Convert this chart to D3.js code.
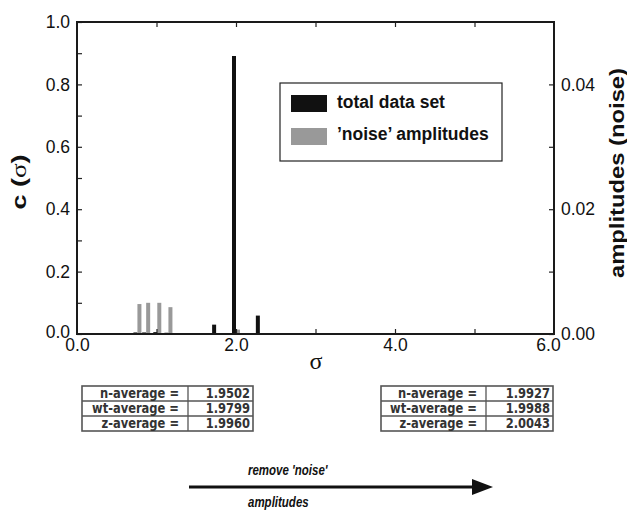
<!DOCTYPE html>
<html>
<head>
<meta charset="utf-8">
<script src="https://cdn.jsdelivr.net/npm/d3@7"></script>
<style>
  html, body { margin: 0; padding: 0; background: #fff; }
  svg { display: block; }
  text { font-family: "Liberation Sans", Arial, Helvetica, sans-serif; fill: #111; }
</style>
</head>
<body>
<svg id="chart" width="627" height="511"></svg>
<script>
// sigma positions of the distribution bins
const sigma = [0.76, 0.87, 1.01, 1.15, 1.31, 1.51, 1.75, 2.00, 2.30];
// c(sigma) of the total data set (left axis)
const totalData = [0.005, 0.005, 0.006, 0.004, 0.003, 0.003, 0.030, 0.891, 0.059];
// 'noise' amplitudes (right axis)
const noiseAmp = [0.0048, 0.0050, 0.0050, 0.0043, 0, 0, 0, 0.0007, 0];

// axis ticks
const xMajor = [0, 2, 4, 6];
const xMinor = [1, 2, 3, 4, 5];
const yLeftMajor = [0, 0.2, 0.4, 0.6, 0.8, 1.0];
const yLeftMinor = [0.1, 0.3, 0.5, 0.7, 0.9];
const yRightMajor = [0, 0.02, 0.04];
const yRightMinor = [0.01, 0.03];

// averages before and after removing the noise amplitudes
const avgLabels = ["n-average =", "wt-average =", "z-average ="];
const avgBefore = ["1.9502", "1.9799", "1.9960"];
const avgAfter = ["1.9927", "1.9988", "2.0043"];

const legendItems = ["total data set", "\u2019noise\u2019 amplitudes"];
const colors = ["#111111", "#999999"];

const svg = d3.select("#chart");
const L = 77, R = 554, T = 22, B = 334;

const x = d3.scaleLinear().domain([0, 6]).range([L, R]);
const yL = d3.scaleLinear().domain([0, 1]).range([B, T]);
const yR = d3.scaleLinear().domain([0, 0.05]).range([B, T]);

const barW = 4;

// bars: total data set (black, left of bin) and noise (gray, right of bin)
svg.append("g").selectAll("rect")
  .data(sigma.map((s, i) => ({ s, v: totalData[i] })))
  .join("rect")
  .attr("x", d => x(d.s) - barW)
  .attr("width", barW)
  .attr("y", d => yL(d.v))
  .attr("height", d => yL(0) - yL(d.v))
  .attr("fill", colors[0]);

svg.append("g").selectAll("rect")
  .data(sigma.map((s, i) => ({ s, v: noiseAmp[i] })).filter(d => d.v > 0))
  .join("rect")
  .attr("x", d => x(d.s))
  .attr("width", barW)
  .attr("y", d => yR(d.v))
  .attr("height", d => yR(0) - yR(d.v))
  .attr("fill", colors[1]);

// axes with inward ticks
function styleAxis(g) {
  g.select(".domain").remove();
  g.selectAll(".tick line").attr("stroke", "#222").attr("stroke-width", 1.2);
  g.selectAll(".tick text").attr("fill", "#111")
    .style("font-family", '"Liberation Sans", Arial, sans-serif')
    .style("font-size", "17.5px");
}

svg.append("g").attr("transform", `translate(0,${B})`)
  .call(d3.axisBottom(x).tickValues(xMajor).tickFormat(d3.format(".1f")).tickSize(0).tickPadding(5))
  .call(styleAxis)
  .call(g => g.selectAll(".tick text").filter(d => d === 6).attr("dx", -6));
svg.append("g").attr("transform", `translate(0,${B})`)
  .call(d3.axisBottom(x).tickValues(xMinor).tickFormat("").tickSize(-5))
  .call(styleAxis);
svg.append("g").attr("transform", `translate(0,${T})`)
  .call(d3.axisTop(x).tickValues(xMinor).tickFormat("").tickSize(-5))
  .call(styleAxis);

svg.append("g").attr("transform", `translate(${L},0)`)
  .call(d3.axisLeft(yL).tickValues(yLeftMajor).tickFormat(d3.format(".1f")).tickSize(-5).tickPadding(7))
  .call(styleAxis)
  .call(g => g.selectAll(".tick text").filter(d => d === 0).attr("y", -2));
svg.append("g").attr("transform", `translate(${L},0)`)
  .call(d3.axisLeft(yL).tickValues(yLeftMinor).tickFormat("").tickSize(-5))
  .call(styleAxis);

svg.append("g").attr("transform", `translate(${R},0)`)
  .call(d3.axisRight(yR).tickValues(yRightMajor).tickFormat(d3.format(".2f")).tickSize(-5).tickPadding(7))
  .call(styleAxis);
svg.append("g").attr("transform", `translate(${R},0)`)
  .call(d3.axisRight(yR).tickValues(yRightMinor).tickFormat("").tickSize(-5))
  .call(styleAxis);

// plot frame
svg.append("rect")
  .attr("x", L).attr("y", T).attr("width", R - L).attr("height", B - T)
  .attr("fill", "none").attr("stroke", "#1a1a1a").attr("stroke-width", 2);

// axis titles
svg.append("text")
  .attr("x", 316).attr("y", 369)
  .attr("text-anchor", "middle")
  .style("font-family", '"Liberation Serif", "Times New Roman", serif')
  .style("font-size", "24px")
  .text("\u03c3");

const yTitle = svg.append("text")
  .attr("transform", "translate(26,182) rotate(-90)")
  .attr("text-anchor", "middle")
  .attr("textLength", 55).attr("lengthAdjust", "spacingAndGlyphs")
  .style("font-size", "21px").style("font-weight", "bold");
yTitle.append("tspan").text("c (");
yTitle.append("tspan").style("font-weight", "normal")
  .style("font-family", '"Liberation Serif", "Times New Roman", serif').text("\u03c3");
yTitle.append("tspan").text(")");

svg.append("text")
  .attr("transform", "translate(624,173) rotate(-90)")
  .attr("text-anchor", "middle")
  .attr("textLength", 210).attr("lengthAdjust", "spacingAndGlyphs")
  .style("font-size", "20px").style("font-weight", "bold")
  .text("amplitudes (noise)");

// legend
const lg = svg.append("g");
lg.append("rect").attr("x", 280).attr("y", 83).attr("width", 222).attr("height", 78)
  .attr("fill", "#fff").attr("stroke", "#222").attr("stroke-width", 1.2);
legendItems.forEach((t, i) => {
  lg.append("rect").attr("x", 291).attr("y", 95 + i * 33).attr("width", 36).attr("height", 17)
    .attr("fill", colors[i]);
  lg.append("text").attr("x", 337).attr("y", 108 + i * 32)
    .style("font-size", "17.5px").style("font-weight", "bold").text(t);
});

// average tables
function table(x0, x1, xDiv, y0, values) {
  const g = svg.append("g");
  const rowH = 15;
  const h = rowH * avgLabels.length;
  g.append("rect").attr("x", x0).attr("y", y0).attr("width", x1 - x0).attr("height", h)
    .attr("fill", "#fff").attr("stroke", "#555").attr("stroke-width", 1.6);
  g.append("line").attr("x1", xDiv).attr("x2", xDiv).attr("y1", y0).attr("y2", y0 + h)
    .attr("stroke", "#555").attr("stroke-width", 1.3);
  for (let i = 1; i < avgLabels.length; i++) {
    g.append("line").attr("x1", x0).attr("x2", x1)
      .attr("y1", y0 + i * rowH).attr("y2", y0 + i * rowH)
      .attr("stroke", "#555").attr("stroke-width", 1.3);
  }
  const cell = (tx, ty, s) => g.append("text")
    .attr("transform", `translate(${tx},${ty}) scale(1,1.15)`)
    .attr("text-anchor", "end")
    .style("font-family", '"DejaVu Sans", Verdana, sans-serif')
    .style("font-size", "11.5px").style("font-weight", "bold").style("fill", "#333")
    .text(s);
  avgLabels.forEach((lab, i) => {
    cell(xDiv - 9, y0 + i * rowH + 12, lab);
    cell(x1 - 3, y0 + i * rowH + 12, values[i]);
  });
}
table(82, 253, 188, 386, avgBefore);
table(381, 553, 486, 386, avgAfter);

// arrow
svg.append("line").attr("x1", 189).attr("x2", 474).attr("y1", 487).attr("y2", 487)
  .attr("stroke", "#111").attr("stroke-width", 3);
svg.append("path").attr("d", "M472,479 L493,487 L472,495 Z").attr("fill", "#111");
const arrowText = (ty, s) => svg.append("text")
  .attr("transform", `translate(248,${ty}) scale(1,1.3)`)
  .style("font-size", "11.5px").style("font-weight", "bold").style("font-style", "italic")
  .text(s);
arrowText(475, "remove 'noise'");
arrowText(507, "amplitudes");
</script>
</body>
</html>
